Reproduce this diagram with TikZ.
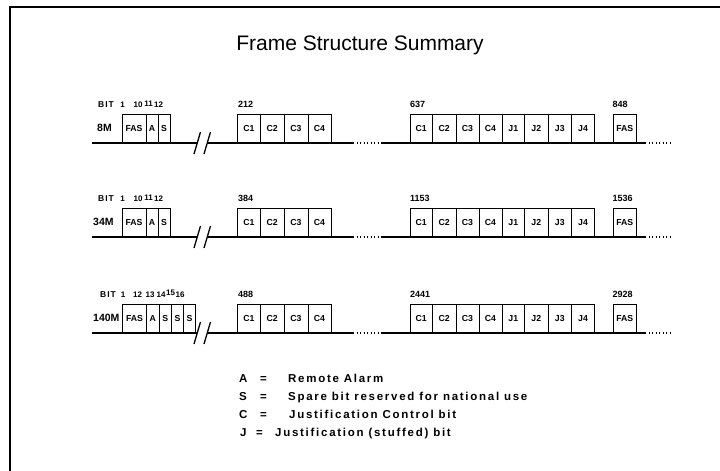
\documentclass[tikz,border=0pt]{standalone}
\usepackage{fontspec}
\setmainfont{Liberation Sans}
\newfontfamily\legfont[LetterSpace=15]{Liberation Sans}
\newfontfamily\bitfont[LetterSpace=12]{Liberation Sans}
\begin{document}
\begin{tikzpicture}[x=1pt,y=-1pt,
  bx/.style={draw,line width=1pt,anchor=south west,inner sep=0pt,minimum height=28pt,
    font=\fontsize{8.7}{9}\selectfont\bfseries},
  lbl/.style={anchor=base west,inner sep=0pt,font=\fontsize{9}{9}\selectfont\bfseries},
  dig/.style={anchor=base,inner sep=0pt,font=\fontsize{8}{8}\selectfont\bfseries},
  bitl/.style={anchor=base west,inner sep=0pt,font=\fontsize{8.5}{9}\bitfont\bfseries},
  rowlbl/.style={anchor=west,inner sep=0pt,font=\fontsize{10.5}{11}\selectfont\bfseries},
  leg/.style={anchor=base west,inner sep=0pt,font=\fontsize{11.5}{12}\legfont\bfseries},
  base/.style={line width=1.3pt},
  dots/.style={line width=1.3pt,dash pattern=on 1.3pt off 2.2pt},
  brk/.style={line width=1.3pt}]
\useasboundingbox (0,0) rectangle (720,471);
% frame
\coordinate (f0) at (10,471);
\coordinate (f1) at (10,7);
\coordinate (f2) at (720,7);
\draw[line width=1.6pt] (f0) -- (f1) -- (f2);
% title
\node[font=\fontsize{21}{24}\selectfont] (title) at (360,45) {Frame Structure Summary};

% ---------- rows ----------
\foreach \r/\L/\nm/\nx/\na/\nb/\nc in {1/143/8M/97/212/637/848, 2/237/34M/93/384/1153/1536, 3/333/140M/93/488/2441/2928}{
  % baseline pieces
  \coordinate (s\r a) at (92,\L);
  \coordinate (s\r b) at (197,\L);
  \coordinate (s\r c) at (207,\L);
  \coordinate (s\r d) at (353,\L);
  \coordinate (s\r e) at (382,\L);
  \coordinate (s\r f) at (645,\L);
  \coordinate (s\r g) at (670,\L);
  \draw[base] (s\r a) -- (s\r b);
  \draw[base] (s\r c) -- (s\r d);
  \draw[dots] (s\r d) -- (s\r e);
  \draw[base] (s\r e) -- (s\r f);
  \draw[dots] (s\r f) -- (s\r g);
  % break marks
  \coordinate (k\r a) at (194,\L+11);
  \coordinate (k\r b) at (200.5,\L-11);
  \coordinate (k\r c) at (204,\L+11);
  \coordinate (k\r d) at (210.5,\L-11);
  \draw[brk] (k\r a) -- (k\r b);
  \draw[brk] (k\r c) -- (k\r d);
  % row label
  \node[rowlbl] (rl\r) at (\nx,\L-15) {\nm};
  % C group
  \foreach \lft/\rgt/\t [count=\i] in {237/260/C1,260/283.5/C2,283.5/307.5/C3,307.5/330.5/C4}
    \node[bx,minimum width={(\rgt-\lft)*1pt}] (r\r c\i) at (\lft,\L) {\t};
  % right group
  \foreach \lft/\rgt/\t [count=\i] in {409.5/432/C1,432/455.5/C2,455.5/478.5/C3,478.5/501.5/C4,501.5/524/J1,524/547.5/J2,547.5/571/J3,571/594/J4}
    \node[bx,minimum width={(\rgt-\lft)*1pt}] (r\r j\i) at (\lft,\L) {\t};
  \node[bx,minimum width=23.5pt] (r\r f) at (612.5,\L) {FAS};
  % numbers
  \node[lbl] (n\r a) at (238,\L-36) {\na};
  \node[lbl] (n\r b) at (410,\L-36) {\nb};
  \node[lbl] (n\r c) at (612.5,\L-36) {\nc};
}
% left groups rows 1,2
\foreach \r/\L in {1/143,2/237}{
  \foreach \lft/\rgt/\t [count=\i] in {121.5/145.5/FAS,145.5/157.5/A,157.5/169.5/S}
    \node[bx,minimum width={(\rgt-\lft)*1pt}] (r\r a\i) at (\lft,\L) {\t};
  \node[bitl] (b\r 0) at (98,\L-36) {BIT};
  \node[dig] (b\r 1) at (122.5,\L-36) {1};
  \node[dig] (b\r 2) at (138,\L-36) {10};
  \node[dig] (b\r 3) at (148.5,\L-37) {11};
  \node[dig] (b\r 4) at (158.5,\L-36) {12};
}
% left group row 3
\foreach \lft/\rgt/\t [count=\i] in {122/146/FAS,146/158.5/A,158.5/171/S,171/183/S,183/195/S}
  \node[bx,minimum width={(\rgt-\lft)*1pt}] (r3a\i) at (\lft,333) {\t};
\node[bitl] (b30) at (100,297) {BIT};
\node[dig] (b31) at (123,297) {1};
\node[dig] (b32) at (137.5,297) {12};
\node[dig] (b33) at (150,297) {13};
\node[dig] (b34) at (161,297) {14};
\node[dig] (b35) at (170.5,295) {15};
\node[dig] (b36) at (180,297) {16};

% legend
\node[leg] (lkA) at (239,382) {A};
\node[leg] (leA) at (260,382) {=};
\node[leg] (ltA) at (288,382) {Remote Alarm};
\node[leg] (lkS) at (239,400) {S};
\node[leg] (leS) at (260,400) {=};
\node[leg] (ltS) at (288,400) {Spare bit reserved for national use};
\node[leg] (lkC) at (239,418) {C};
\node[leg] (leC) at (260,418) {=};
\node[leg] (ltC) at (289,418) {Justification Control bit};
\node[leg] (lkJ) at (240,436) {J};
\node[leg] (leJ) at (256,436) {=};
\node[leg] (ltJ) at (275,436) {Justification (stuffed) bit};
\end{tikzpicture}
\end{document}
